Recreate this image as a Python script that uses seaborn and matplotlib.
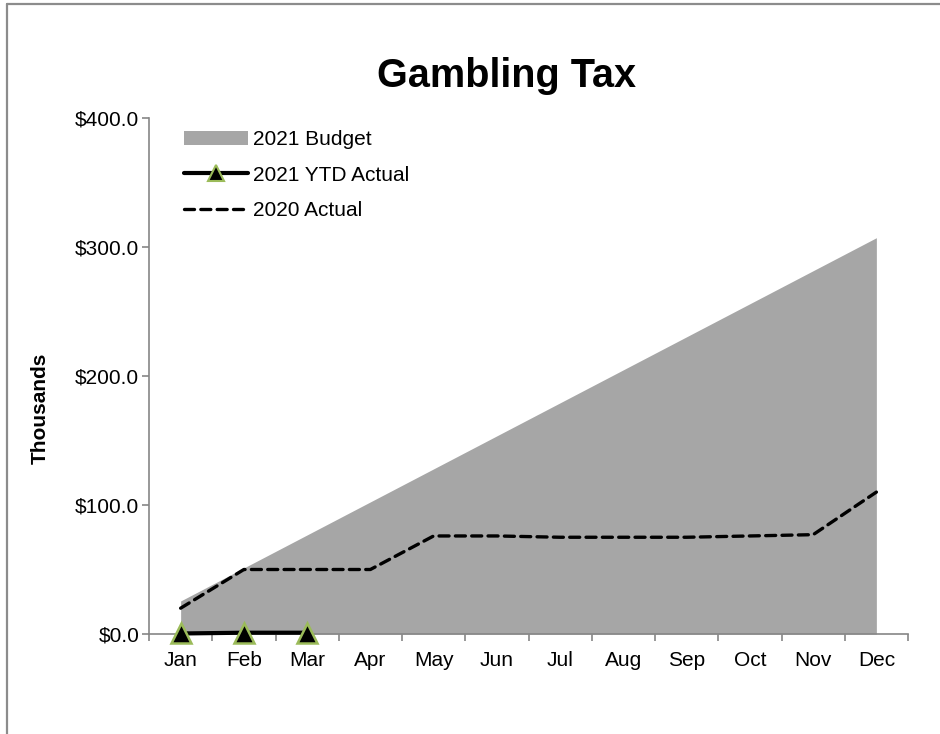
import matplotlib
matplotlib.use("Agg")
import matplotlib.pyplot as plt
from matplotlib.lines import Line2D
from matplotlib.patches import Patch
from matplotlib.ticker import FuncFormatter, FixedLocator
import seaborn as sns
import pandas as pd
import numpy as np

months = ["Jan", "Feb", "Mar", "Apr", "May", "Jun",
          "Jul", "Aug", "Sep", "Oct", "Nov", "Dec"]
budget_2021 = [25.6, 51.2, 76.8, 102.4, 128.0, 153.6,
               179.2, 204.8, 230.4, 256.0, 281.6, 307.2]
actual_2020 = [20.0, 50.0, 50.0, 50.0, 76.0, 76.0,
               75.0, 75.0, 75.0, 76.0, 77.0, 110.0]
ytd_2021 = [0.4, 1.0, 1.0]
y_ticks = [0, 100, 200, 300, 400]

sns.set_style("white")
plt.rcParams["font.family"] = ["Liberation Sans", "DejaVu Sans"]
plt.rcParams["text.color"] = "black"
plt.rcParams["xtick.color"] = "black"
plt.rcParams["ytick.color"] = "black"

df = pd.DataFrame({"month": months, "pos": np.arange(len(months)),
                   "budget": budget_2021, "actual2020": actual_2020})
df_ytd = pd.DataFrame({"pos": np.arange(len(ytd_2021)), "ytd": ytd_2021})

fig = plt.figure(figsize=(9.4, 7.34), dpi=100)
ax = fig.add_axes([149 / 940, 1 - 634 / 734, 759 / 940, 516 / 734])

grey = "#A6A6A6"
axis_col = "#868686"
green = "#9BBB59"

# budget as a filled area
ax.fill_between(df["pos"], 0, df["budget"], color=grey, linewidth=0, zorder=1)

# 2020 actual dashed line
sns.lineplot(data=df, x="pos", y="actual2020", ax=ax, color="black",
             linewidth=2.4, zorder=3, legend=False)
ax.lines[-1].set_dashes((3.0, 1.9))
ax.lines[-1].set_dash_capstyle("round")

# 2021 YTD actual with triangle markers
sns.lineplot(data=df_ytd, x="pos", y="ytd", ax=ax, color="black",
             linewidth=3.0, marker="^", markersize=15,
             markerfacecolor="black", markeredgecolor=green,
             markeredgewidth=1.8, zorder=4, legend=False, clip_on=False)

ax.set_xlim(-0.5, 11.5)
ax.set_ylim(0, 400)
ax.set_xlabel("")
ax.set_ylabel("")

ax.yaxis.set_major_locator(FixedLocator(y_ticks))
ax.yaxis.set_major_formatter(FuncFormatter(lambda v, p: f"${v:,.1f}"))
ax.set_xticks(df["pos"])
ax.set_xticklabels(months)
ax.set_xticks(np.arange(-0.5, 12, 1), minor=True)

ax.tick_params(axis="y", which="major", left=True, length=5, width=1.2,
               color=axis_col, labelcolor="black", labelsize=15, pad=2,
               direction="out")
ax.tick_params(axis="x", which="major", bottom=False, length=0,
               labelcolor="black", labelsize=15, pad=12)
ax.tick_params(axis="x", which="minor", bottom=True, length=5, width=1.2,
               color=axis_col, direction="out")

for side in ["top", "right"]:
    ax.spines[side].set_visible(False)
for side in ["left", "bottom"]:
    ax.spines[side].set_color(axis_col)
    ax.spines[side].set_linewidth(1.2)

handles = [
    Patch(facecolor=grey, edgecolor="none", label="2021 Budget"),
    Line2D([0], [0], color="black", linewidth=3.0, marker="^", markersize=11,
           markerfacecolor="black", markeredgecolor=green,
           markeredgewidth=1.5, label="2021 YTD Actual"),
    Line2D([0], [0], color="black", linewidth=2.4, dashes=(3.0, 1.9),
           dash_capstyle="round", label="2020 Actual"),
]
leg = ax.legend(handles=handles, loc="upper left",
                bbox_to_anchor=(0.035, 0.993), frameon=False,
                fontsize=15, handlelength=3.1, handleheight=0.65,
                handletextpad=0.2, labelspacing=0.8, borderaxespad=0)
for t in leg.get_texts():
    t.set_color("black")

fig.text(506 / 940, 1 - 87 / 734, "Gambling Tax", ha="center",
         va="baseline", fontsize=28.5, fontweight="bold", color="black")
fig.text(40 / 940, 1 - 408 / 734, "Thousands", ha="center", va="center",
         rotation=90, fontsize=15, fontweight="bold", color="black")

# frame lines along the top and left edges of the figure
fig.add_artist(Line2D([7 / 940, 1], [1 - 3.5 / 734, 1 - 3.5 / 734],
                      transform=fig.transFigure, color="#8C8C8C", linewidth=1.6))
fig.add_artist(Line2D([7 / 940, 7 / 940], [0, 1 - 3.5 / 734],
                      transform=fig.transFigure, color="#8C8C8C", linewidth=1.6))

fig.savefig("out.png", dpi=100)
